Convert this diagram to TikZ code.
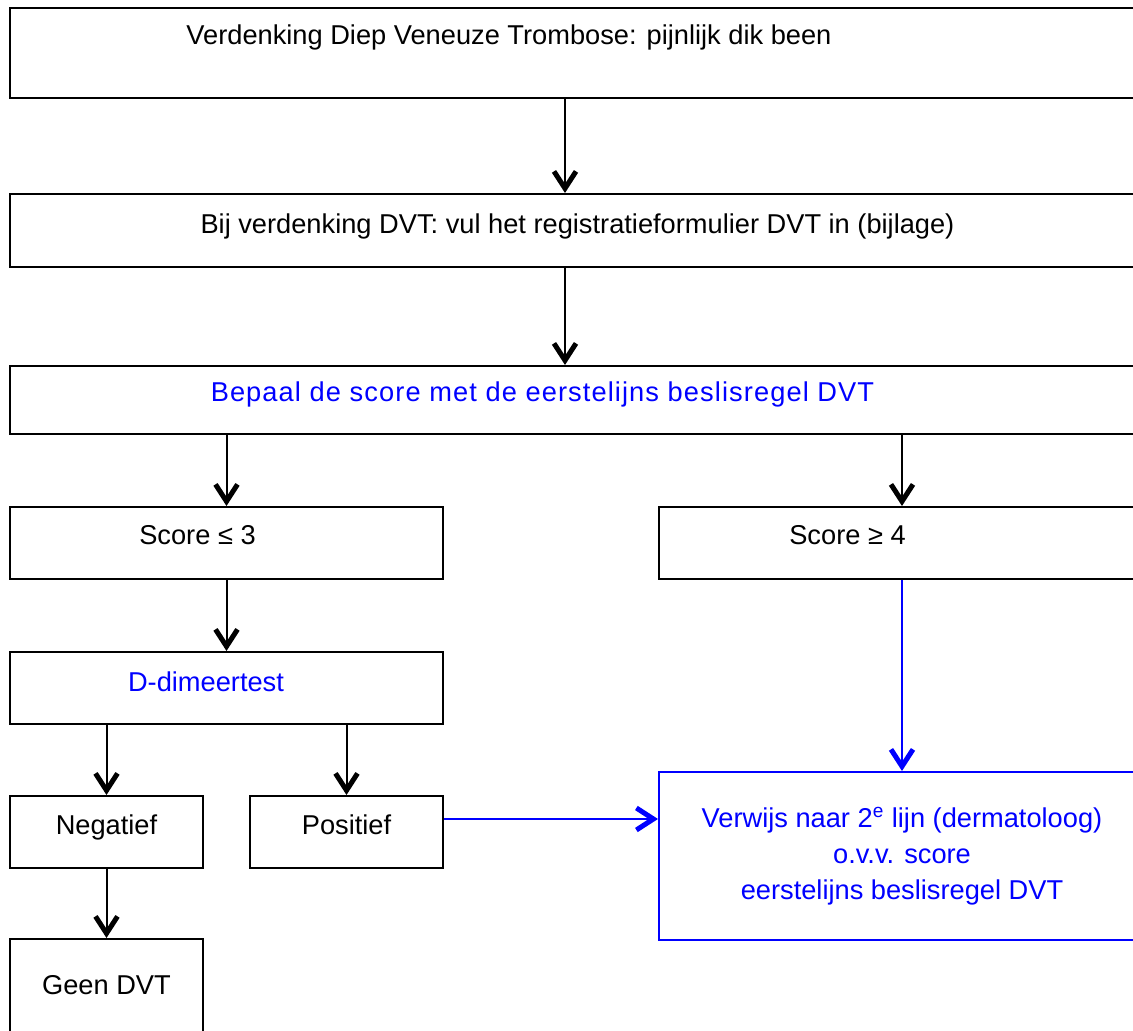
\documentclass[tikz,border=0pt]{standalone}
\usepackage{fontspec}
\setmainfont{Liberation Sans}
\usetikzlibrary{arrows.meta}

\begin{document}
\begin{tikzpicture}[scale=0.2]
\tikzstyle{every node}+=[inner sep=0pt]
\tikzstyle{box}=[draw=black, line width=0.04cm, anchor=north west, font=\fontsize{15.5}{20.5}\selectfont]
\tikzstyle{arr}=[line width=0.04cm, -{Straight Barb[length=0.34cm,width=0.44cm,line width=0.1cm]}]
\useasboundingbox (0,0) rectangle (113.3,-103.1);
\node [box, minimum width=22.7cm, text height=0.74cm, text depth=1.06cm] (verd) at (0.9,-0.7) {Verdenking Diep Veneuze Trombose: pijnlijk dik been\hspace*{2.74cm}};
\node [box, minimum width=22.7cm, text height=0.8cm, text depth=0.66cm] (bij) at (0.9,-19.3) {Bij verdenking DVT: vul het registratieformulier DVT in (bijlage)};
\node [box, text=blue, minimum width=22.7cm, text height=0.72cm, text depth=0.64cm] (bepaal) at (0.9,-36.5) {\addfontfeature{LetterSpace=4}Bepaal de score met de eerstelijns beslisregel DVT\hspace*{1.4cm}};
\node [box, minimum width=8.66cm, text height=0.76cm, text depth=0.68cm] (low) at (0.9,-50.6) {Score ≤ 3\hspace*{1.16cm}};
\node [box, minimum width=9.72cm, text height=0.76cm, text depth=0.68cm] (high) at (65.8,-50.6) {Score ≥ 4\hspace*{2.18cm}};
\node [box, text=blue, minimum width=8.66cm, text height=0.78cm, text depth=0.66cm] (ddim) at (0.9,-65.1) {D-dimeertest\hspace*{0.82cm}};
\node [box, minimum width=3.86cm, text height=0.76cm, text depth=0.68cm] (neg) at (0.9,-79.5) {Negatief};
\node [box, minimum width=3.86cm, text height=0.76cm, text depth=0.68cm] (pos) at (24.9,-79.5) {Positief};
\node [box, minimum width=3.86cm, text height=1.1cm, text depth=0.94cm] (geen) at (0.9,-93.8) {Geen DVT};
\node [box, draw=blue, text=blue, align=center, minimum width=9.72cm, minimum height=3.36cm] (verw) at (65.8,-77.1) {Verwijs naar 2\textsuperscript{e} lijn (dermatoloog)\\o.v.v. score\\eerstelijns beslisregel DVT};
\coordinate (spine) at (56.5,0);
\coordinate (ref) at (0,-81.9);
\draw [arr] (verd.south -| spine) -- (bij.north -| spine);
\draw [arr] (bij.south -| spine) -- (bepaal.north -| spine);
\draw [arr] (bepaal.south -| low.north) -- (low.north);
\draw [arr] (bepaal.south -| high.north) -- (high.north);
\draw [arr] (low.south) -- (ddim.north);
\draw [arr] (ddim.south -| neg.north) -- (neg.north);
\draw [arr] (ddim.south -| pos.north) -- (pos.north);
\draw [arr] (neg.south) -- (geen.north);
\draw [arr, blue] (high.south) -- (verw.north);
\draw [arr, blue] (pos.east |- ref) -- (verw.west |- ref);
\end{tikzpicture}
\end{document}
